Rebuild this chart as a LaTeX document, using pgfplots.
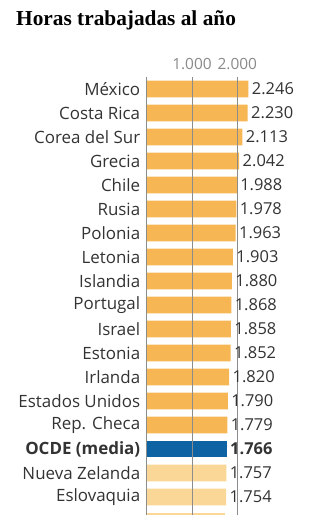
\documentclass[border=0pt]{standalone}
\usepackage{pgfplots}
\pgfplotsset{compat=1.18}
\usepackage{fontspec}
\setmainfont{Open Sans}
\newfontfamily\titlefont{Liberation Serif}
\definecolor{barorange}{HTML}{F6B653}
\definecolor{barlight}{HTML}{FAD697}
\definecolor{barblue}{HTML}{0E64A2}
\definecolor{txt}{HTML}{333333}
\definecolor{ticktxt}{HTML}{8A8A8A}
\begin{document}
\begin{tikzpicture}[x=1bp,y=1bp]
\useasboundingbox (0,0) rectangle (335,515);
\clip (0,0) rectangle (335,515);
\node[anchor=base west, inner sep=0, text=black, font=\titlefont\bfseries\fontsize{21.4}{24}\selectfont] at (16,489) {Horas trabajadas al año};
\begin{axis}[
  at={(146.7bp,438bp)}, anchor=north west,
  scale only axis, width=181.2bp, height=456bp,
  xmin=0, xmax=4000, ymin=-18.5, ymax=0.5,
  xbar, bar width=16.7bp, bar shift=0pt,
  axis line style={draw=none},
  /pgf/number format/assume math mode=true,
  /pgf/number format/1000 sep={.},
  xtick={0,1000,2000}, xticklabels={,1.000,2.000},
  xticklabel pos=upper,
  xticklabel style={font=\fontsize{15.5}{16}\selectfont, text=ticktxt, yshift=4bp},
  major tick length=0pt,
  xmajorgrids, grid style={black!45, line width=0.6bp},
  axis on top,
  ytick={-18,-17,...,0},
  yticklabels={,Eslovaquia,Nueva Zelanda,\textbf{OCDE (media)},Rep. Checa,Estados Unidos,Irlanda,Estonia,Israel,Portugal,Islandia,Letonia,Polonia,Rusia,Chile,Grecia,Corea del Sur,Costa Rica,México},
  yticklabel style={font=\fontsize{17}{18}\selectfont, text=txt, xshift=-3bp},
  every node near coord/.append style={anchor=west, font=\fontsize{16.5}{18}\selectfont, text=txt},
]
\addplot[fill=barorange, draw=none, nodes near coords] coordinates {
 (2246,0) (2230,-1) (2113,-2) (2042,-3) (1988,-4) (1978,-5) (1963,-6)
 (1903,-7) (1880,-8) (1868,-9) (1858,-10) (1852,-11) (1820,-12) (1790,-13) (1779,-14)
};
\addplot[fill=barblue, draw=none, nodes near coords, every node near coord/.append style={font=\fontsize{16.5}{18}\selectfont\bfseries}] coordinates {(1766,-15)};
\addplot[fill=barlight, draw=none, nodes near coords] coordinates {(1757,-16) (1754,-17)};
\addplot[fill=barlight, draw=none] coordinates {(1728,-18)};
\end{axis}
\end{tikzpicture}
\end{document}
